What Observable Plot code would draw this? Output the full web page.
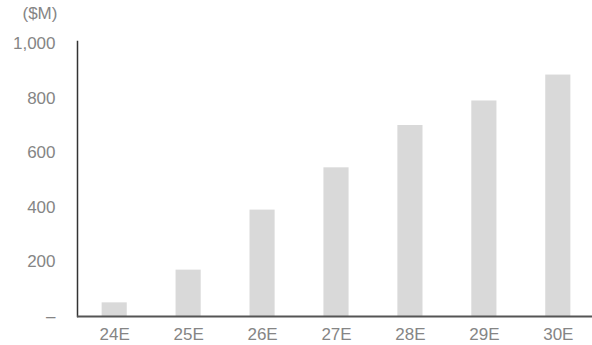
<!DOCTYPE html>
<html>
<head>
<meta charset="utf-8">
<script src="https://cdn.jsdelivr.net/npm/d3@7"></script>
<script src="https://cdn.jsdelivr.net/npm/@observablehq/plot@0.6"></script>
<style>
  html, body { margin: 0; padding: 0; background: #fff; }
</style>
</head>
<body>
<div id="chart"></div>
<script>
// Annual estimates, $M
const years = ["24E", "25E", "26E", "27E", "28E", "29E", "30E"];
const values = [50, 170, 390, 545, 700, 790, 885];
const yTicks = [0, 200, 400, 600, 800, 1000];
const unitLabel = "($M)";

const data = years.map((year, i) => ({year, value: values[i]}));
const fmt = d3.format(",");

const chart = Plot.plot({
  width: 592,
  height: 345,
  marginLeft: 77,
  marginRight: -3,
  marginTop: 41,
  marginBottom: 29,
  style: {
    fontFamily: "'Liberation Sans', Arial, sans-serif",
    fontSize: "17px",
    color: "#858585",
    background: "#fff"
  },
  x: {domain: years, paddingInner: 0.66, paddingOuter: 0.333, round: false},
  y: {domain: [0, 1008]},
  marks: [
    Plot.barY(data, {x: "year", y: "value", fill: "#d9d9d9"}),
    Plot.axisY({
      ticks: yTicks,
      tickSize: 0,
      tickPadding: 22,
      tickFormat: d => d === 0 ? "–" : fmt(d),
      label: null
    }),
    Plot.axisX({tickSize: 0, tickPadding: 11, label: null}),
    Plot.frame({anchor: "left", stroke: "#333", strokeWidth: 1.5}),
    Plot.ruleY([0], {stroke: "#555", strokeWidth: 2}),
    Plot.text([unitLabel], {
      frameAnchor: "top-left",
      textAnchor: "start",
      lineAnchor: "middle",
      dx: -55,
      dy: -28,
      fill: "#858585"
    })
  ]
});

document.getElementById("chart").appendChild(chart);
</script>
</body>
</html>
